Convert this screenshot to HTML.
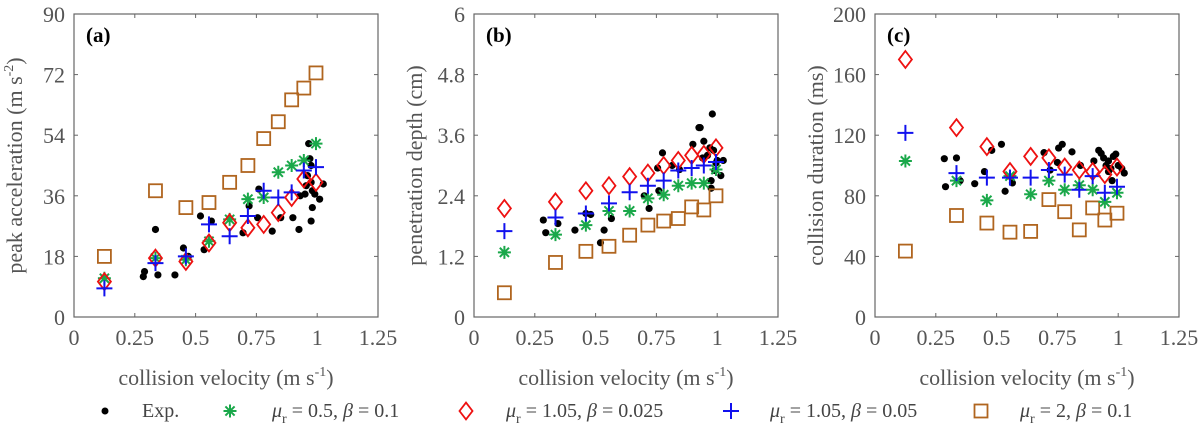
<!DOCTYPE html>
<html><head><meta charset="utf-8"><style>
html,body{margin:0;padding:0;background:#fff;}
svg, svg text{font-family:"Liberation Serif","Times New Roman",serif !important;}
</style></head><body>
<svg id="fig" width="1200" height="434" viewBox="0 0 1200 434" font-family="Liberation Serif, serif"></svg>
<script>
const modelX=[0.125,0.335,0.46,0.555,0.64,0.715,0.78,0.84,0.895,0.945,0.995];
const xTicks=[0,0.25,0.5,0.75,1,1.25];
const xTickLabels=["0","0.25","0.5","0.75","1","1.25"];
// panel a
const aTicks=[0,18,36,54,72,90];
const aStar=[11.5,17.5,17,22.5,29,35,35.5,43,45,46.5,51.5];
const aDiam=[10.5,17.5,16.5,22,28,26.5,27.5,31,35.5,41,40];
const aPlus=[8.5,16,18,27.5,24,30,37.5,35.5,37,43.5,44.5];
const aSq=[18,37.5,32.5,34,40,45,53,58,64.5,68,72.5];
const aExpX=[0.285,0.29,0.335,0.345,0.415,0.45,0.47,0.52,0.535,0.565,0.695,0.72,0.755,0.76,0.815,0.85,0.9,0.925,0.93,0.95,0.955,0.965,0.97,0.975,0.975,0.98,0.975,0.98,0.99,1.01,1.025,0.96];
const aExpY=[12,13.5,26,12.5,12.5,20.5,18,30,20,28.5,25,33,29.5,38,25.5,29.5,29.5,26,36,36.5,39,51.5,47,45,40,32.5,28.5,37.5,36.5,35,39.5,42];
// panel b
const bTicks=[0,1.2,2.4,3.6,4.8,6];
const bStar=[1.28,1.63,1.82,2.1,2.1,2.35,2.42,2.6,2.65,2.65,2.92];
const bDiam=[2.15,2.28,2.5,2.6,2.78,2.85,3.0,3.1,3.2,3.22,3.35];
const bPlus=[1.7,1.97,2.05,2.25,2.47,2.6,2.7,2.9,2.95,3.0,3.07];
const bSq=[0.48,1.08,1.3,1.4,1.62,1.82,1.9,1.95,2.18,2.12,2.4];
const bExpX=[0.285,0.295,0.345,0.415,0.46,0.48,0.52,0.535,0.565,0.7,0.72,0.755,0.76,0.775,0.815,0.845,0.9,0.925,0.93,0.945,0.96,0.97,0.975,0.975,0.98,0.985,0.99,0.995,1.0,1.015,1.025,0.94];
const bExpY=[1.92,1.67,1.85,1.72,2.05,2.03,1.47,1.72,1.95,2.4,2.15,2.95,2.5,3.25,3.0,2.92,3.42,3.75,3.75,3.48,3.2,3.35,2.7,2.55,4.02,3.3,2.9,3.05,3.1,2.8,3.1,3.15];
// panel c
const cTicks=[0,40,80,120,160,200];
const cStar=[103,90,77,93,81,90,84,87,84,76,82];
const cDiam=[170,125,112.5,96,106,105,99,97,96,94,99];
const cPlus=[121.5,95,92,92,92,97,94,84,93,82,86];
const cSq=[43.5,67,62,56,56.5,77.5,69.5,57.5,72,64,68.5];
const cExpX=[0.285,0.29,0.335,0.35,0.41,0.45,0.48,0.52,0.535,0.565,0.695,0.72,0.75,0.755,0.77,0.81,0.845,0.9,0.92,0.93,0.94,0.95,0.96,0.97,0.975,0.98,0.99,1.0,1.015,1.025,0.96];
const cExpY=[104.5,86,105,90,88,96,110,114,83,88.5,108.5,97,102,111.5,114,109,100,103,110,108,105,100,103,98,90,106,107.5,100,98,95,96];

const NS="http://www.w3.org/2000/svg";
const svg=document.getElementById('fig');
const FF='Liberation Serif, serif';
function mk(tag,attrs,parent){const e=document.createElementNS(NS,tag);for(const k in attrs)e.setAttribute(k,attrs[k]);if(tag==='text')e.setAttribute('font-family',FF);(parent||svg).appendChild(e);return e;}
const GREEN="#1aa84a",RED="#ee1111",BLUE="#1111ee",BROWN="#b0651f";
function star(g,x,y,s){const p=[];for(let i=0;i<4;i++){const a=i*Math.PI/4;p.push(`M${x-s*Math.cos(a)},${y-s*Math.sin(a)}L${x+s*Math.cos(a)},${y+s*Math.sin(a)}`);}return mk('path',{d:p.join(''),stroke:GREEN,'stroke-width':2,fill:'none'},g);}
function diam(g,x,y,s){return mk('path',{d:`M${x},${y-s*1.3}L${x+s},${y}L${x},${y+s*1.3}L${x-s},${y}Z`,stroke:RED,'stroke-width':1.8,fill:'none'},g);}
function plus(g,x,y,s){return mk('path',{d:`M${x-s},${y}H${x+s}M${x},${y-s}V${y+s}`,stroke:BLUE,'stroke-width':2,fill:'none'},g);}
function sq(g,x,y,s){return mk('rect',{x:x-s,y:y-s,width:2*s,height:2*s,stroke:BROWN,'stroke-width':1.8,fill:'none'},g);}
function dot(g,x,y,r){return mk('circle',{cx:x,cy:y,r:r,fill:'#000'},g);}

function panel(id,left,ticks,ylabel,tag,star_,diam_,plus_,sq_,ex,ey){
  const top=14,bot=317,w=304,h=bot-top,ymax=ticks[ticks.length-1];
  const sx=v=>left+v/1.25*w, sy=v=>bot-v/ymax*h;
  const g=mk('g',{});  
  const fr=mk('rect',{x:left,y:top,width:w,height:h,fill:'none',stroke:'#666','stroke-width':1.2},g);
   
  xTicks.forEach((t,i)=>{const x=sx(t);
    mk('line',{x1:x,y1:bot,x2:x,y2:bot-4,stroke:'#666'},g);mk('line',{x1:x,y1:top,x2:x,y2:top+4,stroke:'#666'},g);
    const tx=mk('text',{x:x,y:bot+28,'text-anchor':'middle','font-size':22,fill:'#555'},g);tx.textContent=xTickLabels[i];
     });
  ticks.forEach(t=>{const y=sy(t);
    mk('line',{x1:left,y1:y,x2:left+4,y2:y,stroke:'#666'},g);mk('line',{x1:left+w,y1:y,x2:left+w-4,y2:y,stroke:'#666'},g);
    const tx=mk('text',{x:left-9,y:y+8,'text-anchor':'end','font-size':22,fill:'#555'},g);tx.textContent=String(t);
     });
  const xl=mk('text',{x:left+w/2,y:385,'text-anchor':'middle','font-size':22,fill:'#555'},g);
  xl.innerHTML='collision velocity (m s<tspan dy="-9" font-size="14">-1</tspan><tspan dy="9">)</tspan>';
   
  const yl=mk('text',{transform:`translate(${left-52},${(top+bot)/2}) rotate(-90)`,'text-anchor':'middle','font-size':22,fill:'#555'},g);
  yl.innerHTML=ylabel;
   
  const tg=mk('text',{x:left+12,y:top+28,'font-size':21,'font-weight':'bold',fill:'#000'},g);tg.textContent=tag;
   
  ex.forEach((v,i)=>{const d=dot(g,sx(v),sy(ey[i]),3.6);});
  modelX.forEach((v,i)=>{const x=sx(v);
    const a=sq(g,x,sy(sq_[i]),6.5);
    const b=star(g,x,sy(star_[i]),6.5);
    const c=diam(g,x,sy(diam_[i]),6.5);
    const d=plus(g,x,sy(plus_[i]),8);});
}
panel('a',74,aTicks,'peak acceleration (m s<tspan dy="-9" font-size="14">-2</tspan><tspan dy="9">)</tspan>','(a)',aStar,aDiam,aPlus,aSq,aExpX,aExpY);
panel('b',474,bTicks,'penetration depth (cm)','(b)',bStar,bDiam,bPlus,bSq,bExpX,bExpY);
panel('c',875,cTicks,'collision duration (ms)','(c)',cStar,cDiam,cPlus,cSq,cExpX,cExpY);

// legend
const lg=mk('g',{});  
const LY=411;
function ltext(x,html){const t=mk('text',{x:x,y:LY+6,'font-size':20,fill:'#444'},lg);t.innerHTML=html;
   return t;}
const mu=(r,b)=>`<tspan font-style="italic">μ</tspan><tspan dy="6" font-size="14">r</tspan><tspan dy="-6"> = ${r}, </tspan><tspan font-style="italic">β</tspan> = ${b}`;
let m=dot(lg,105,LY,3.5);  
ltext(142,'Exp.');
m=star(lg,230,LY,6.5);  
ltext(272,mu('0.5','0.1'));
m=diam(lg,466,LY,6.5);  
ltext(506,mu('1.05','0.025'));
m=plus(lg,731,LY,8);  
ltext(770,mu('1.05','0.05'));
m=sq(lg,981,LY,6.5);  
ltext(1020,mu('2','0.1'));
</script>
</body></html>
